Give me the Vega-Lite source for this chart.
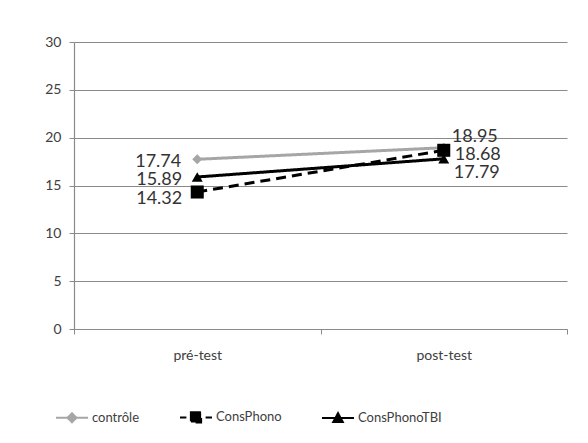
{
  "$schema": "https://vega.github.io/schema/vega-lite/v6.json",
  "width": 493,
  "height": 287,
  "autosize": {"type": "none"},
  "padding": {"left": 74, "top": 42, "right": 21, "bottom": 114},
  "background": "white",
  "config": {
    "font": "Lato",
    "view": {"stroke": null},
    "axis": {"labelFont": "Lato", "labelColor": "#404040", "labelFontSize": 14, "domainColor": "#8a8a8a", "tickColor": "#8a8a8a", "gridColor": "#8a8a8a", "title": null}
  },
  "data": {
    "values": [
      {"test": "pré-test", "serie": "contrôle", "score": 17.74},
      {"test": "post-test", "serie": "contrôle", "score": 18.95},
      {"test": "pré-test", "serie": "ConsPhono", "score": 14.32},
      {"test": "post-test", "serie": "ConsPhono", "score": 18.68},
      {"test": "pré-test", "serie": "ConsPhonoTBI", "score": 15.89},
      {"test": "post-test", "serie": "ConsPhonoTBI", "score": 17.79}
    ]
  },
  "encoding": {
    "x": {
      "field": "test", "type": "nominal", "sort": ["pré-test", "post-test"],
      "scale": {"type": "band", "paddingInner": 0, "paddingOuter": 0},
      "axis": {"labelAngle": 0, "tickBand": "extent", "tickSize": 5, "labelPadding": 14, "grid": false, "domainWidth": 1.2}
    },
    "y": {
      "field": "score", "type": "quantitative",
      "scale": {"domain": [0, 30], "nice": false},
      "axis": {"values": [0, 5, 10, 15, 20, 25, 30], "tickSize": 5, "labelPadding": 8, "grid": true, "gridWidth": 1.2, "domainWidth": 1.2}
    }
  },
  "layer": [
    {
      "mark": {"type": "line", "strokeWidth": 3},
      "encoding": {
        "color": {
          "field": "serie", "type": "nominal",
          "scale": {"domain": ["contrôle", "ConsPhono", "ConsPhonoTBI"], "range": ["#a6a6a6", "#000000", "#000000"]},
          "legend": {
            "title": null,
            "orient": "none",
            "direction": "horizontal",
            "legendX": -19,
            "legendY": 358,
            "padding": 0,
            "symbolSize": 1024,
            "symbolStrokeWidth": 2,
            "labelFont": "Lato",
            "labelFontSize": 13,
            "labelColor": "#404040",
            "labelOffset": 3,
            "columnPadding": 36,
            "encode": {
              "symbols": {
                "update": {
                  "shape": {"signal": "datum.value === 'contrôle' ? 'M-1,0H1M0,-0.28L0.28,0L0,0.28L-0.28,0Z' : datum.value === 'ConsPhono' ? 'M-1,0H-0.6M-0.32,-0.32H0.32V0.32H-0.32ZM0.6,0H1' : 'M-1,0H1M-0.3,0.25L0,-0.3L0.3,0.25Z'"},
                  "fill": {"signal": "datum.value === 'contrôle' ? '#a6a6a6' : '#000000'"},
                  "stroke": {"signal": "datum.value === 'contrôle' ? '#a6a6a6' : '#000000'"},
                  "size": {"value": 1024},
                  "strokeWidth": {"value": 2},
                  "strokeDash": {"value": []},
                  "opacity": {"value": 1}
                }
              }
            }
          }
        },
        "strokeDash": {
          "field": "serie", "type": "nominal",
          "scale": {"domain": ["contrôle", "ConsPhono", "ConsPhonoTBI"], "range": [[1, 0], [10, 6], [1, 0]]},
          "legend": null
        }
      }
    },
    {
      "transform": [{"filter": "datum.serie === 'contrôle'"}],
      "mark": {"type": "point", "filled": true, "opacity": 1, "shape": "diamond", "size": 100, "color": "#a6a6a6"}
    },
    {
      "transform": [{"filter": "datum.serie === 'ConsPhono'"}],
      "mark": {"type": "point", "filled": true, "opacity": 1, "shape": "square", "size": 170, "color": "#000000"}
    },
    {
      "transform": [{"filter": "datum.serie === 'ConsPhonoTBI'"}],
      "mark": {"type": "point", "filled": true, "opacity": 1, "shape": "triangle-up", "size": 120, "color": "#000000"}
    },
    {
      "transform": [{"filter": "datum.serie === 'contrôle' && datum.test === 'pré-test'"}],
      "mark": {"type": "text", "align": "right", "baseline": "middle", "dx": -16, "dy": 3, "fontSize": 18, "font": "Lato", "color": "#333333"},
      "encoding": {"text": {"field": "score", "type": "quantitative", "format": ".2f"}}
    },
    {
      "transform": [{"filter": "datum.serie === 'ConsPhonoTBI' && datum.test === 'pré-test'"}],
      "mark": {"type": "text", "align": "right", "baseline": "middle", "dx": -15, "dy": 3, "fontSize": 18, "font": "Lato", "color": "#333333"},
      "encoding": {"text": {"field": "score", "type": "quantitative", "format": ".2f"}}
    },
    {
      "transform": [{"filter": "datum.serie === 'ConsPhono' && datum.test === 'pré-test'"}],
      "mark": {"type": "text", "align": "right", "baseline": "middle", "dx": -15, "dy": 7, "fontSize": 18, "font": "Lato", "color": "#333333"},
      "encoding": {"text": {"field": "score", "type": "quantitative", "format": ".2f"}}
    },
    {
      "transform": [{"filter": "datum.serie === 'contrôle' && datum.test === 'post-test'"}],
      "mark": {"type": "text", "align": "left", "baseline": "middle", "dx": 8, "dy": -11, "fontSize": 18, "font": "Lato", "color": "#333333"},
      "encoding": {"text": {"field": "score", "type": "quantitative", "format": ".2f"}}
    },
    {
      "transform": [{"filter": "datum.serie === 'ConsPhono' && datum.test === 'post-test'"}],
      "mark": {"type": "text", "align": "left", "baseline": "middle", "dx": 11, "dy": 5, "fontSize": 18, "font": "Lato", "color": "#333333"},
      "encoding": {"text": {"field": "score", "type": "quantitative", "format": ".2f"}}
    },
    {
      "transform": [{"filter": "datum.serie === 'ConsPhonoTBI' && datum.test === 'post-test'"}],
      "mark": {"type": "text", "align": "left", "baseline": "middle", "dx": 10, "dy": 14, "fontSize": 18, "font": "Lato", "color": "#333333"},
      "encoding": {"text": {"field": "score", "type": "quantitative", "format": ".2f"}}
    }
  ]
}
